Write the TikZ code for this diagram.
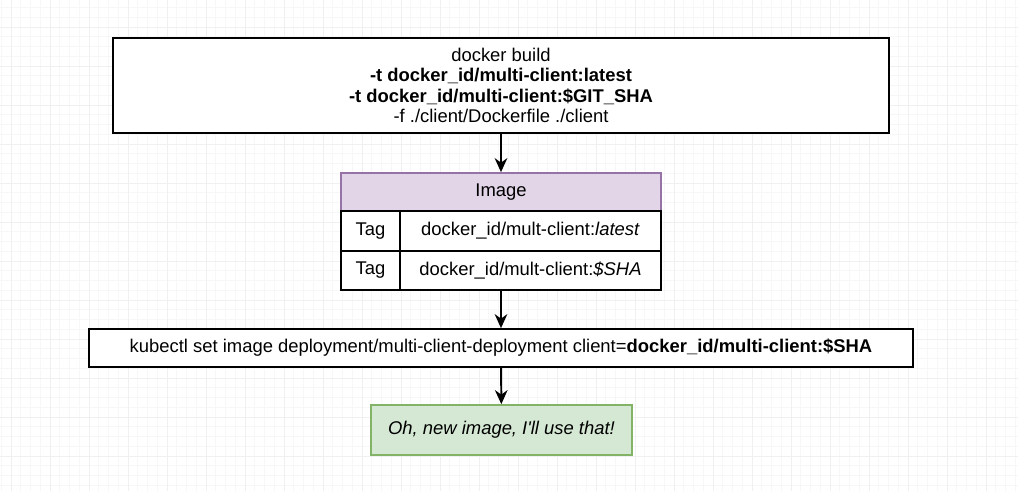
\documentclass[tikz,border=0pt]{standalone}
\usepackage{fontspec}
\setmainfont{Liberation Sans}
\usetikzlibrary{arrows.meta}
\definecolor{headfill}{HTML}{E1D5E7}
\definecolor{headline}{HTML}{9673A6}
\definecolor{notefill}{HTML}{D5E8D4}
\definecolor{noteline}{HTML}{82B366}

\begin{document}
\begin{tikzpicture}[font=\fontsize{13.1}{14.4}\selectfont, line width=1.2pt]
            \tikzset{cmdbox/.style={draw, fill=white, inner sep=0pt, align=center},
                cell/.style={draw, fill=white, inner sep=0pt, minimum height=1cm},
                flow/.style={-{Stealth[length=10pt, width=9pt]}, line width=1.4pt}};
            \useasboundingbox (0, 0) rectangle (25.45, -12.275);
            % Canvas
            \begin{scope}
                \clip (0, 0) rectangle (25.45, -12.275);
                \draw[black!3, line width=0.4pt, xshift=0.275cm, yshift=-0.675cm, step=0.24375]
                    (-1, -13) grid (26, 1);
                \draw[black!6, line width=0.5pt, xshift=0.275cm, yshift=-0.675cm, step=0.975]
                    (-1, -13) grid (26, 1);
            \end{scope}
            % Build
            \node[cmdbox, minimum width=19.4cm, minimum height=2.375cm] (build) at (12.525, -2.1375)
                {docker build\\
                \textbf{-t docker\_id/multi-client:latest}\\
                \textbf{-t docker\_id/multi-client:\$GIT\_SHA}\\
                -f ./client/Dockerfile ./client};
            % Image
            \node[draw=headline, fill=headfill, minimum width=8cm, minimum height=0.95cm] (imghead) at (12.525, -4.8) {Image};
            \node[cell, minimum width=1.475cm] (tag1) at (9.2625, -5.775) {Tag};
            \node[cell, minimum width=6.525cm] (val1) at (13.2625, -5.775) {docker\_id/mult-client:\textit{latest}};
            \node[cell, minimum width=1.475cm, minimum height=0.975cm] (tag2) at (9.2625, -6.7625) {Tag};
            \node[cell, minimum width=6.525cm, minimum height=0.975cm] (val2) at (13.2625, -6.7625) {docker\_id/mult-client:\textit{\$SHA}};
            % Deploy
            \node[cmdbox, minimum width=20.6cm, minimum height=0.95cm] (kube) at (12.525, -8.7)
                {kubectl set image deployment/multi-client-deployment client=\textbf{docker\_id/multi-client:\$SHA}};
            \node[draw=noteline, fill=notefill, minimum width=6.525cm, minimum height=1.25cm] (note) at (12.5375, -10.75)
                {\textit{Oh, new image, I\textquotesingle ll use that!}};
            \draw[flow] (build) -- (imghead);
            \draw[flow] (tag2.south -| imghead) -- (kube);
            \draw[flow] (kube) -- (note);
        \end{tikzpicture}
\end{document}
